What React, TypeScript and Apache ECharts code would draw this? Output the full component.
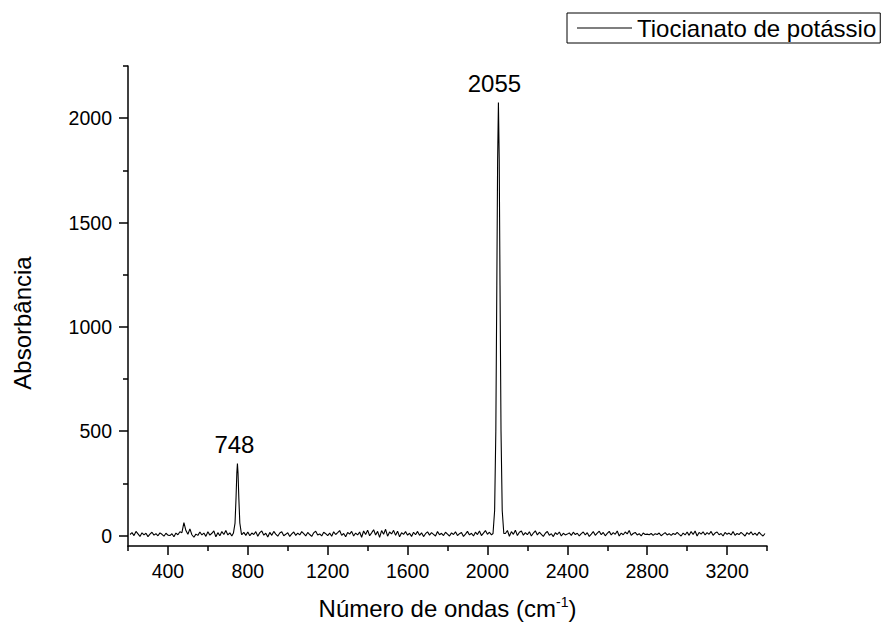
import React, { useEffect, useRef } from "react";
import * as echarts from "echarts";

// Axis ranges and ticks
const xMin = 200;
const xMax = 3400;
const yMin = -50;
const yMax = 2250;
const xMajorTicks = [400, 800, 1200, 1600, 2000, 2400, 2800, 3200];
const xMinorTicks = [200, 600, 1000, 1400, 1800, 2200, 2600, 3000, 3400];
const yMajorTicks = [0, 500, 1000, 1500, 2000];
const yMinorTicks = [250, 750, 1250, 1750, 2250];

const seriesName = "Tiocianato de potássio";
const xAxisTitle = "Número de ondas (cm";
const xAxisTitleSup = "-1";
const yAxisTitle = "Absorbância";

// Baseline readings, 210 to 3390 cm-1 every 10 cm-1 (points inside peak windows are replaced by the peaks)
const baseStart = 210;
const baseStep = 10;
const baseline = [
  5, 14, 0, 20, 8, -4, 13, 3, 11, -5, 7, 16, 2, 9, -1, 13, 6, -3, 11, 2,
  0, 9, -6, 12, 4, 18, 14, 62, 24, 6, 32, 4, -8, 7, 1, 17, 3, 12, -4, 18,
  2, 11, 22, -6, 14, -1, 19, 5, 24, 3, 13, -2, 6, 0, 0, 0, 4, 15, 1, 17,
  -1, 12, 5, 19, -3, 14, 22, 2, 11, -7, 15, 1, 20, 7, -3, 12, 18, -1, 6, 14,
  -4, 8, 17, 1, 12, 3, 19, 9, -2, 15, 5, -4, 13, 21, 3, 8, -2, 16, 9, 0,
  12, -3, 18, 5, 14, 24, 1, 10, -6, 15, 7, 20, -2, 12, 3, 17, -8, 22, 5, 26,
  -1, 13, 28, 3, 20, -9, 24, 6, 30, -3, 17, 8, 25, 1, 21, -6, 14, 6, 19, 2,
  11, -4, 16, 4, 20, 1, 13, -5, 9, 18, 2, 14, 6, -2, 19, 4, 11, 0, 16, 7,
  -2, 13, 5, 18, 0, 9, 15, -4, 7, 20, 3, 11, -2, 16, 5, 22, 0, 12, 24, 6,
  16, 3, 0, 0, 0, 0, 0, 0, 10, 24, -3, 19, 6, 26, 0, 16, 22, 2, 14, 4,
  18, -2, 12, 23, 3, 16, 6, -4, 11, 20, 1, 9, -5, 14, 5, 17, -2, 11, 3, 7,
  13, 1, 16, 5, 11, -2, 9, 17, 3, 14, -4, 7, 19, 1, 12, 21, 4, 15, -1, 10,
  20, 3, 14, 6, 22, -2, 12, 4, 17, 8, 24, 1, 10, 15, 3, 9, -2, 12, 5, 7,
  4, 10, 1, 9, 5, 12, -1, 7, 14, 3, 9, 1, 10, 5, 15, 6, -2, 12, 3, 17,
  1, 19, 5, 22, -2, 15, 7, 18, 3, 14, 6, 20, 1, 12, 17, 4, 10, -2, 15, 6,
  12, 3, 19, 1, 10, 5, 15, 7, -2, 14, 6, 18, 3, 12, 1, 16, 6, -2, 10,
];

// Peak 1 (748 cm-1)
const peak1Wavenumbers = [728, 736, 741, 745, 748, 751, 755, 760, 768];
const peak1Values = [12, 60, 180, 300, 345, 300, 180, 60, 8];
// Peak 2 (2055 cm-1)
const peak2Wavenumbers = [2028, 2036, 2042, 2047, 2051, 2055, 2059, 2063, 2068, 2074, 2082];
const peak2Values = [10, 120, 500, 1200, 1800, 2075, 1800, 1200, 500, 120, 10];

// Peak annotations
const peakLabels = ["748", "2055"];
const peakLabelX = [748, 2055];
const peakLabelY = [345, 2075];

function buildData(): [number, number][] {
  const windows = [
    [peak1Wavenumbers[0], peak1Wavenumbers[peak1Wavenumbers.length - 1]],
    [peak2Wavenumbers[0], peak2Wavenumbers[peak2Wavenumbers.length - 1]],
  ];
  const pts: [number, number][] = [];
  baseline.forEach((v, i) => {
    const x = baseStart + i * baseStep;
    if (windows.some(([a, b]) => x >= a && x <= b)) return;
    pts.push([x, v]);
  });
  peak1Wavenumbers.forEach((x, i) => pts.push([x, peak1Values[i]]));
  peak2Wavenumbers.forEach((x, i) => pts.push([x, peak2Values[i]]));
  pts.sort((a, b) => a[0] - b[0]);
  return pts;
}

const FONT = "'Liberation Sans', Arial, sans-serif";
const plain = (v: number) => String(v);

export default function App() {
  const ref = useRef<HTMLDivElement>(null);
  useEffect(() => {
    if (!ref.current) return;
    const chart = echarts.init(ref.current, null, { renderer: "svg" });
    chart.setOption({
      animation: false,
      backgroundColor: "#fff",
      textStyle: { fontFamily: FONT },
      grid: { left: 128, top: 66, width: 639, height: 481, containLabel: false },
      legend: {
        left: 567,
        top: 13,
        padding: [3, 4, 3, 10],
        itemWidth: 55,
        itemHeight: 1,
        itemGap: 0,
        borderColor: "#000",
        borderWidth: 1,
        textStyle: { fontSize: 24, color: "#000", fontFamily: FONT },
        data: [{ name: seriesName, icon: "rect" }],
      },
      xAxis: [
        {
          type: "value",
          min: xMin,
          max: xMax,
          position: "bottom",
          name: `{a|${xAxisTitle}}{s|${xAxisTitleSup}}{a|)}`,
          nameLocation: "middle",
          nameGap: 49,
          nameTextStyle: {
            rich: {
              a: { fontSize: 24, color: "#000", fontFamily: FONT, lineHeight: 26 },
              s: { fontSize: 14, color: "#000", fontFamily: FONT, verticalAlign: "top" },
            },
          },
          axisLine: { show: true, onZero: false, lineStyle: { color: "#000", width: 1.5 } },
          axisTick: { show: true, inside: false, length: 9, customValues: xMajorTicks, lineStyle: { color: "#000", width: 1.5 } },
          axisLabel: { show: true, customValues: xMajorTicks, formatter: plain, fontSize: 19.5, color: "#000", fontFamily: FONT, margin: 15 },
          splitLine: { show: false },
        },
        {
          type: "value",
          min: xMin,
          max: xMax,
          position: "bottom",
          axisLine: { show: false, onZero: false },
          axisTick: { show: true, inside: false, length: 5, customValues: xMinorTicks, lineStyle: { color: "#000", width: 1.5 } },
          axisLabel: { show: false },
          splitLine: { show: false },
        },
      ],
      yAxis: [
        {
          type: "value",
          min: yMin,
          max: yMax,
          position: "left",
          axisLine: { show: true, onZero: false, lineStyle: { color: "#000", width: 1.5 } },
          axisTick: { show: true, inside: false, length: 9, customValues: yMajorTicks, lineStyle: { color: "#000", width: 1.5 } },
          axisLabel: { show: true, customValues: yMajorTicks, formatter: plain, fontSize: 19.5, color: "#000", fontFamily: FONT, margin: 16 },
          splitLine: { show: false },
        },
        {
          type: "value",
          min: yMin,
          max: yMax,
          position: "left",
          axisLine: { show: false, onZero: false },
          axisTick: { show: true, inside: false, length: 5, customValues: yMinorTicks, lineStyle: { color: "#000", width: 1.5 } },
          axisLabel: { show: false },
          splitLine: { show: false },
        },
      ],
      graphic: [
        {
          type: "text",
          x: 22,
          y: 323,
          rotation: Math.PI / 2,
          style: {
            text: yAxisTitle,
            fontSize: 24,
            fontFamily: FONT,
            fill: "#000",
            align: "center",
            verticalAlign: "middle",
          },
        },
      ],
      series: [
        {
          name: seriesName,
          type: "line",
          xAxisIndex: 0,
          yAxisIndex: 0,
          data: buildData(),
          symbol: "none",
          showSymbol: false,
          smooth: false,
          lineStyle: { color: "#000", width: 1.1 },
          itemStyle: { color: "#000" },
          markPoint: {
            symbol: "circle",
            symbolSize: 0,
            silent: true,
            label: {
              show: true,
              position: "top",
              distance: 7,
              fontSize: 24,
              color: "#000",
              fontFamily: FONT,
              formatter: (p: any) => p.name,
            },
            data: peakLabels.map((name, i) => ({
              name,
              coord: [peakLabelX[i], peakLabelY[i]],
              label: { offset: [i === 0 ? -3 : -4, 0] },
            })),
          },
        },
      ],
    });
    return () => chart.dispose();
  }, []);
  return (
    <div
      ref={ref}
      style={{ position: "fixed", left: 0, top: 0, width: 889, height: 625, background: "#fff" }}
    />
  );
}
